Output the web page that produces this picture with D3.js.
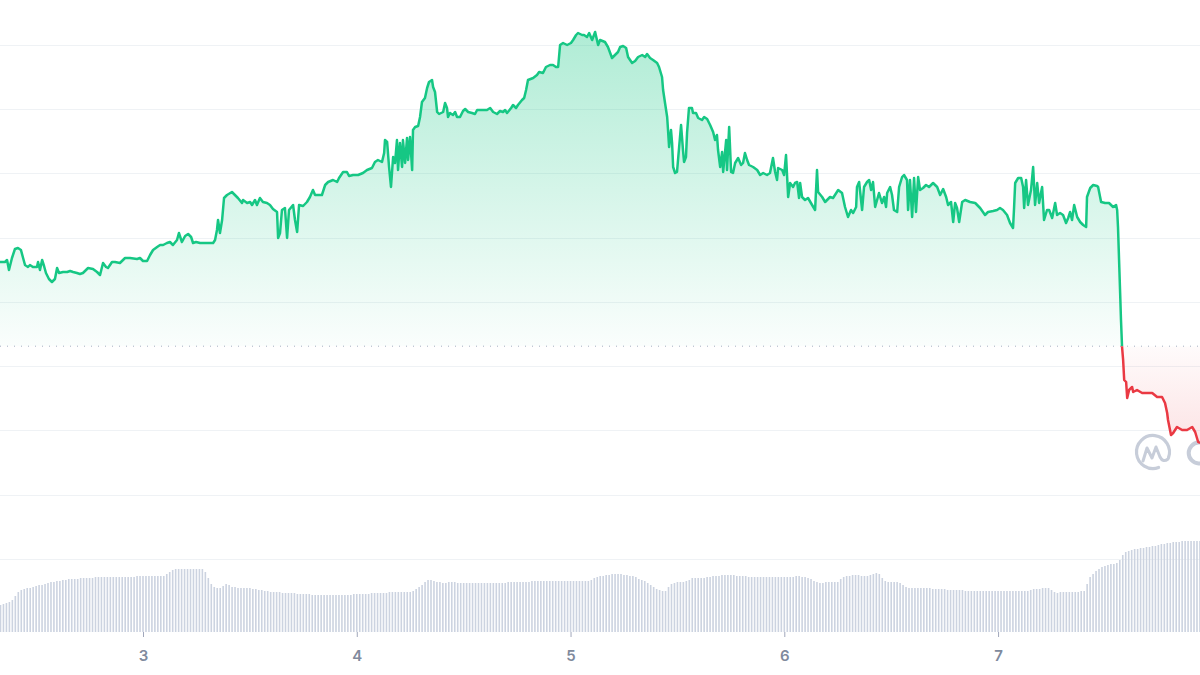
<!DOCTYPE html>
<html><head><meta charset="utf-8">
<script src="https://cdn.jsdelivr.net/npm/d3@7"></script>
<style>html,body{margin:0;padding:0;background:#fff;}svg{display:block;}</style>
</head><body>
<script>
// ---- DATA ----
const times = [
2.331,2.354,2.364,2.373,2.387,2.401,2.415,2.429,2.439,2.448,2.462,2.471,2.485,2.504,2.509,2.518,2.528,2.537,2.546,2.560,2.574,2.588,2.598,2.607,2.626,2.645,2.659,2.673,2.691,2.705,2.719,2.743,2.766,2.785,
2.799,2.813,2.827,2.836,2.855,2.869,2.892,2.916,2.939,2.972,2.986,3.000,3.019,3.033,3.047,3.066,3.080,3.094,3.112,3.126,3.140,3.159,3.168,3.182,3.197,3.211,3.225,3.234,3.248,
3.267,3.299,3.328,3.337,3.346,3.351,3.360,3.370,3.379,3.393,3.416,3.430,3.444,3.463,3.468,3.487,3.501,3.510,3.524,3.533,3.547,3.561,3.580,3.594,3.608,3.627,3.632,3.641,3.650,3.664,3.674,3.683,3.702,3.711,3.721,3.730,
3.749,3.767,3.781,3.795,3.805,3.837,3.852,3.866,3.889,3.908,3.917,3.936,3.954,3.964,3.983,4.006,4.029,4.048,4.071,4.085,4.099,4.118,4.128,4.132,4.142,4.151,4.160,4.170,4.179,4.188,4.193,
4.202,4.212,4.216,4.226,4.235,4.240,4.249,4.259,4.263,4.273,4.287,4.296,4.305,4.319,4.329,4.338,4.352,4.357,4.366,4.376,4.385,4.404,4.413,4.422,4.427,4.436,4.450,4.460,4.469,4.483,4.497,4.507,4.521,4.539,4.553,4.563,4.609,4.624,4.638,4.656,
4.670,4.684,4.694,4.703,4.722,4.731,4.745,4.754,4.773,4.783,4.792,4.801,4.825,4.843,4.853,4.871,4.885,4.904,4.918,4.932,4.942,4.951,4.965,4.984,5.002,5.012,5.026,5.035,5.054,5.063,5.077,5.087,5.101,5.115,5.129,
5.138,5.161,5.175,5.194,5.208,5.222,5.232,5.246,5.260,5.269,5.288,5.302,5.316,5.335,5.349,5.358,5.372,5.386,5.405,5.414,5.428,5.433,5.442,5.452,5.456,5.461,5.470,5.475,5.480,5.489,5.498,5.508,5.517,5.526,5.531,5.540,5.545,5.554,5.568,5.573,5.587,5.597,
5.615,5.625,5.639,5.653,5.667,5.676,5.685,5.690,5.700,5.709,5.714,5.728,5.732,5.742,5.751,5.760,5.770,5.784,5.798,5.807,5.816,5.826,5.835,5.854,5.873,5.887,5.901,5.919,5.933,5.947,5.957,5.966,5.971,5.990,5.999,6.008,6.018,6.027,6.041,6.050,6.060,6.069,
6.074,6.083,6.097,6.111,6.130,6.144,6.153,6.158,6.177,6.191,6.214,6.228,6.252,6.270,6.284,6.298,6.312,6.322,6.336,6.340,6.350,6.364,6.373,6.387,6.397,6.406,6.415,6.425,6.434,6.443,6.457,6.467,6.476,6.481,6.495,6.504,6.513,6.528,6.537,
6.551,6.560,6.574,6.579,6.588,6.598,6.607,6.616,6.626,6.635,6.649,6.663,6.677,6.696,6.715,6.729,6.743,6.757,6.766,6.780,6.790,6.799,6.808,6.818,6.832,6.846,6.869,6.893,6.916,6.939,6.953,6.977,6.995,
7.009,7.023,7.042,7.056,7.070,7.075,7.080,7.094,7.108,7.117,7.122,7.131,7.140,7.154,7.164,7.173,7.183,7.192,7.206,7.215,7.229,7.239,7.253,7.267,7.276,7.290,7.304,7.318,7.328,7.337,7.346,7.356,7.370,7.384,7.398,7.412,7.416,7.431,7.445,7.463,7.468,
7.482,7.501,7.519,7.538,7.552,7.557,7.561,7.566,7.571,7.575,7.580,7.585,7.590,7.599,7.604,7.613,7.627,7.632,7.650,7.674,7.697,7.721,7.744,7.767,7.781,7.791,7.795,7.809,7.819,7.837,7.861,7.884,7.908,7.922,7.936,7.945
];
const prices = [
0.3485,0.3485,0.3495,0.3445,0.3505,0.3550,0.3555,0.3545,0.3505,0.3470,0.3460,0.3470,0.3460,0.3460,0.3485,0.3445,0.3495,0.3465,0.3430,0.3400,0.3385,0.3400,0.3455,0.3430,0.3435,0.3435,0.3440,0.3435,0.3430,0.3425,0.3430,0.3455,0.3450,0.3435,
0.3420,0.3480,0.3460,0.3455,0.3485,0.3485,0.3480,0.3505,0.3505,0.3500,0.3505,0.3490,0.3490,0.3520,0.3545,0.3560,0.3570,0.3570,0.3580,0.3585,0.3570,0.3595,0.3630,0.3585,0.3615,0.3625,0.3610,0.3580,0.3585,
0.3580,0.3580,0.3580,0.3595,0.3645,0.3695,0.3630,0.3695,0.3805,0.3820,0.3835,0.3820,0.3805,0.3780,0.3795,0.3780,0.3785,0.3770,0.3795,0.3770,0.3805,0.3785,0.3780,0.3770,0.3750,0.3735,0.3605,0.3630,0.3745,0.3755,0.3605,0.3745,0.3770,0.3695,0.3635,0.3770,
0.3765,0.3785,0.3810,0.3845,0.3820,0.3820,0.3870,0.3885,0.3895,0.3885,0.3905,0.3935,0.3935,0.3915,0.3920,0.3920,0.3930,0.3945,0.3955,0.3985,0.3995,0.3985,0.4030,0.4095,0.4085,0.3960,0.3860,0.4010,0.3980,0.4095,0.3945,
0.4080,0.3960,0.4095,0.3980,0.4105,0.3995,0.4110,0.3945,0.4145,0.4160,0.4165,0.4210,0.4285,0.4305,0.4355,0.4385,0.4395,0.4360,0.4335,0.4235,0.4225,0.4235,0.4280,0.4255,0.4210,0.4230,0.4220,0.4235,0.4210,0.4210,0.4240,0.4250,0.4235,0.4230,0.4225,0.4245,0.4245,0.4255,0.4235,0.4225,
0.4240,0.4235,0.4245,0.4230,0.4255,0.4270,0.4255,0.4270,0.4295,0.4305,0.4345,0.4395,0.4405,0.4420,0.4435,0.4430,0.4460,0.4470,0.4470,0.4460,0.4460,0.4570,0.4580,0.4570,0.4580,0.4595,0.4620,0.4630,0.4620,0.4620,0.4610,0.4630,0.4595,0.4635,0.4570,
0.4595,0.4585,0.4560,0.4505,0.4520,0.4535,0.4560,0.4565,0.4555,0.4510,0.4480,0.4490,0.4510,0.4520,0.4510,0.4525,0.4505,0.4495,0.4480,0.4460,0.4410,0.4345,0.4280,0.4210,0.4145,0.4060,0.4145,0.4080,0.3960,0.3930,0.3935,0.4060,0.4170,0.4045,0.3985,0.4010,0.4130,0.4255,0.4255,0.4230,0.4230,0.4205,
0.4195,0.4210,0.4200,0.4170,0.4135,0.4095,0.4120,0.4045,0.3960,0.4035,0.3935,0.4095,0.3945,0.4160,0.3935,0.3930,0.3980,0.4005,0.3970,0.3980,0.4030,0.3995,0.3970,0.3960,0.3945,0.3920,0.3930,0.3920,0.3930,0.4005,0.3935,0.3895,0.3955,0.3945,0.3920,0.4020,0.3810,0.3880,0.3860,0.3880,0.3885,0.3805,
0.3880,0.3810,0.3795,0.3805,0.3770,0.3745,0.3945,0.3835,0.3810,0.3785,0.3810,0.3805,0.3845,0.3830,0.3760,0.3710,0.3745,0.3730,0.3760,0.3860,0.3885,0.3745,0.3860,0.3885,0.3895,0.3845,0.3885,0.3760,0.3795,0.3830,0.3780,0.3810,0.3760,0.3830,0.3860,0.3820,0.3745,0.3735,0.3860,
0.3910,0.3920,0.3895,0.3745,0.3895,0.3710,0.3905,0.3735,0.3910,0.3845,0.3855,0.3870,0.3860,0.3880,0.3860,0.3820,0.3850,0.3810,0.3770,0.3785,0.3685,0.3780,0.3755,0.3685,0.3785,0.3795,0.3785,0.3780,0.3755,0.3720,0.3735,0.3740,0.3745,
0.3755,0.3745,0.3720,0.3680,0.3655,0.3760,0.3880,0.3905,0.3905,0.3860,0.3755,0.3895,0.3770,0.3845,0.3960,0.3770,0.3880,0.3780,0.3860,0.3695,0.3745,0.3745,0.3705,0.3780,0.3720,0.3730,0.3720,0.3680,0.3705,0.3735,0.3695,0.3770,0.3710,0.3685,0.3670,0.3660,0.3810,0.3855,0.3870,0.3865,0.3860,
0.3785,0.3780,0.3780,0.3760,0.3770,0.3745,0.3660,0.3495,0.3330,0.3195,0.3060,0.2995,0.2895,0.2885,0.2805,0.2845,0.2860,0.2835,0.2845,0.2830,0.2830,0.2830,0.2810,0.2810,0.2780,0.2730,0.2695,0.2620,0.2630,0.2660,0.2645,0.2645,0.2660,0.2635,0.2585,0.2580
];
const openPrice = 0.3064;               // reference price (dotted line)
const gridValues = [0.2000,0.2321,0.2643,0.2964,0.3285,0.3606,0.3928,0.4249,0.4570];
const dayTicks = [3,4,5,6,7];
const dayLabels = ["3","4","5","6","7"];
const volStart = 2.3333;                // first volume bar (day)
const volStep = 1/72;                   // 20 minutes
const volumes = [
27,28,29,30,32,36,40,42,43,44, 44,45,46,47,47,48,49,50,50,51, 51,52,52,53,53,53,53,54,54,54, 54,54,55,55,55,55,55,55,55,55,
55,55,55,55,55,55,56,56,56,56, 56,56,56,56,56,56,58,60,62,63, 63,63,63,63,63,63,63,63,63,60, 54,48,45,44,44,46,48,47,45,45,
44,44,44,44,44,43,43,42,42,41, 41,40,40,40,40,39,39,39,39,39, 38,38,38,38,38,37,37,37,37,37, 37,37,37,37,37,37,37,37,37,38,
38,38,38,38,38,39,39,39,39,39, 39,40,40,40,40,40,40,40,40,41, 43,45,47,50,52,52,51,50,50,49, 49,50,50,50,49,49,49,49,49,49,
49,49,49,49,49,49,49,49,49,49, 49,50,50,50,50,50,50,50,50,51, 51,51,51,51,51,51,51,51,51,51, 51,51,51,51,51,51,51,51,51,52,
54,55,56,56,57,57,58,58,58,58, 57,57,56,56,55,53,52,51,49,47, 45,43,42,41,41,45,48,49,50,50, 50,51,52,54,54,54,54,54,55,55,
56,56,56,57,57,57,57,57,56,56, 56,56,55,55,55,55,55,55,55,55, 55,55,55,55,55,55,55,55,56,56, 55,55,54,53,51,50,49,49,50,50,
50,50,50,53,55,56,56,57,57,57, 56,56,56,57,58,59,58,54,51,50, 50,50,50,49,47,45,44,44,44,44, 44,44,44,44,43,43,43,43,43,42,
42,42,42,42,42,41,41,41,41,41, 41,41,41,41,41,41,41,41,41,41, 41,41,41,41,41,41,41,42,43,43, 43,44,44,44,42,40,39,40,40,40,
40,40,40,40,41,41,48,55,58,61, 63,65,66,67,68,68,69,72,77,80, 81,82,83,83,84,84,85,85,86,86, 87,88,88,89,89,90,90,90,91,91,
91,91,91,91,91
];

// ---- CHART ----
const W = 1200, H = 675;
const svg = d3.select("body").append("svg").attr("width", W).attr("height", H)
  .style("background", "#fff");

const x = d3.scaleLinear().domain([2.331, 7.9446]).range([0, W]);
const y = d3.scaleLinear().domain([0.2, 0.457]).range([559, 45]);
const vy = d3.scaleLinear().domain([0, 100]).range([632, 532]);

const data = times.map((t, i) => ({t, p: prices[i]}));
const vdata = volumes.map((v, i) => ({t: volStart + i * volStep, v}));

const GREEN = "#16c784", RED = "#ea3943";
const defs = svg.append("defs");
const gg = defs.append("linearGradient").attr("id", "gGreen")
  .attr("gradientUnits", "userSpaceOnUse").attr("x1", 0).attr("x2", 0)
  .attr("y1", y(0.4635)).attr("y2", y(openPrice));
gg.append("stop").attr("offset", 0).attr("stop-color", GREEN).attr("stop-opacity", 0.34);
gg.append("stop").attr("offset", 1).attr("stop-color", GREEN).attr("stop-opacity", 0.02);
const rg = defs.append("linearGradient").attr("id", "gRed")
  .attr("gradientUnits", "userSpaceOnUse").attr("x1", 0).attr("x2", 0)
  .attr("y1", y(openPrice)).attr("y2", y(0.25));
rg.append("stop").attr("offset", 0).attr("stop-color", RED).attr("stop-opacity", 0.02);
rg.append("stop").attr("offset", 1).attr("stop-color", RED).attr("stop-opacity", 0.16);

const yb = y(openPrice);
defs.append("clipPath").attr("id", "above").append("rect")
  .attr("x", 0).attr("y", 0).attr("width", W).attr("height", yb);
defs.append("clipPath").attr("id", "below").append("rect")
  .attr("x", 0).attr("y", yb).attr("width", W).attr("height", H - yb);

// gridlines
svg.append("g").selectAll("line").data(gridValues).join("line")
  .attr("x1", 0).attr("x2", W)
  .attr("y1", d => Math.round(y(d)) + 0.5).attr("y2", d => Math.round(y(d)) + 0.5)
  .attr("stroke", "#eff2f5").attr("stroke-width", 1);

// volume bars
svg.append("g").selectAll("rect").data(vdata).join("rect")
  .attr("x", d => x(d.t) - 0.8).attr("width", 1.6)
  .attr("y", d => vy(d.v)).attr("height", d => vy(0) - vy(d.v))
  .attr("fill", "#ccd3e0");

// reference dotted line
svg.append("line").attr("x1", 0).attr("x2", W)
  .attr("y1", yb).attr("y2", yb)
  .attr("stroke", "#a6b0c3").attr("stroke-width", 1).attr("stroke-dasharray", "1,6");

// areas
const area = d3.area().x(d => x(d.t)).y0(yb).y1(d => y(d.p));
svg.append("path").datum(data).attr("d", area).attr("fill", "url(#gGreen)").attr("clip-path", "url(#above)");
svg.append("path").datum(data).attr("d", area).attr("fill", "url(#gRed)").attr("clip-path", "url(#below)");

// watermark (logo mark, drawn as shapes)
const wm = svg.append("g").attr("fill", "none").attr("stroke", "#c7cdd9")
  .attr("stroke-linecap", "round").attr("stroke-linejoin", "round");
wm.append("path")
  .attr("d", "M1158.6,467.5 A16.5,16.5 0 1 1 1168.5,457.6")
  .attr("stroke-width", 3.2);
wm.append("path").attr("d", "M1143,461 L1147,448 L1152,458 L1156,447 L1160,457 Q1163,463 1168,459")
  .attr("stroke-width", 3);
// start of the word-mark "C" (cut by the right edge)
wm.append("path").attr("d", "M1206,445 A10.5,10.5 0 1 0 1206,461").attr("stroke-width", 4);

// lines
const line = d3.line().x(d => x(d.t)).y(d => y(d.p));
svg.append("path").datum(data).attr("d", line).attr("fill", "none").attr("stroke", GREEN)
  .attr("stroke-width", 2.5).attr("stroke-linejoin", "round").attr("clip-path", "url(#above)");
svg.append("path").datum(data).attr("d", line).attr("fill", "none").attr("stroke", RED)
  .attr("stroke-width", 2.5).attr("stroke-linejoin", "round").attr("clip-path", "url(#below)");

// x axis
const ax = svg.append("g").attr("transform", "translate(0,632)")
  .call(d3.axisBottom(x).tickValues(dayTicks).tickSize(5).tickPadding(13)
        .tickFormat((d, i) => dayLabels[i]));
ax.select(".domain").remove();
ax.selectAll(".tick line").attr("stroke", "#a1a7bb");
ax.selectAll(".tick text").attr("fill", "#808a9d").attr("font-size", 15)
  .attr("font-weight", 600).attr("font-family", "Inter, sans-serif");
</script>
</body></html>
